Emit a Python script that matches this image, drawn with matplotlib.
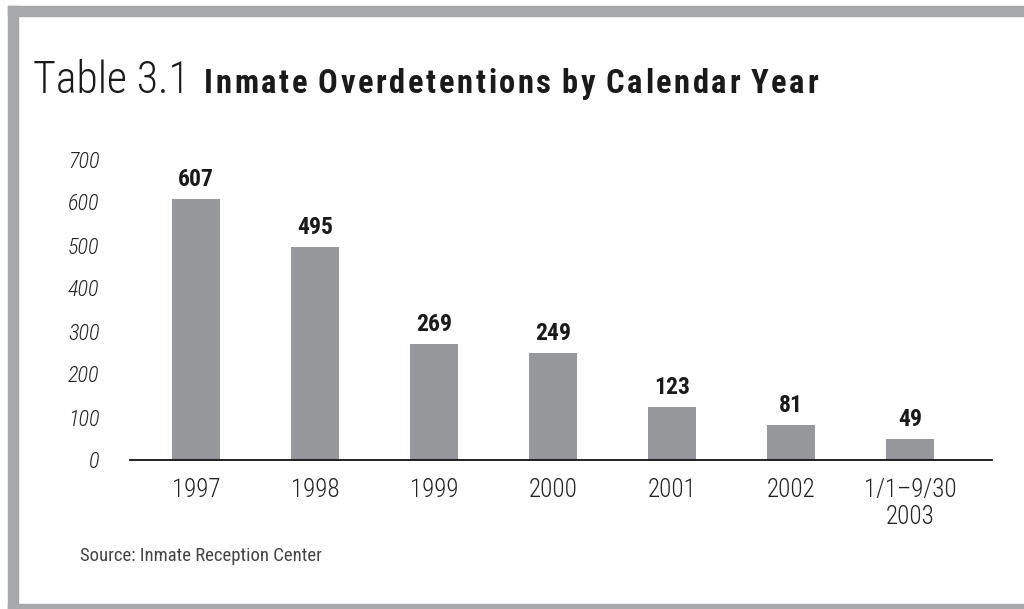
import matplotlib
matplotlib.use("Agg")
import matplotlib.pyplot as plt
from matplotlib.patches import Rectangle

# overdetentions per calendar year
periods = ["1997", "1998", "1999", "2000", "2001", "2002", "1/1\u20139/30\n2003"]
counts = [607, 495, 269, 249, 123, 81, 49]
yticks = [0, 100, 200, 300, 400, 500, 600, 700]

bar_color = "#97989b"
frame_color = "#a7a8aa"
text_color = "#1a1a1a"
narrow = ["Roboto Condensed", "DejaVu Sans"]

plt.rcParams["font.family"] = narrow

W, H = 1024, 609
fig = plt.figure(figsize=(W / 100, H / 100), dpi=100)
fig.patch.set_facecolor("white")


def spaced_text(x0, x1, y, s, **kw):
    # lay out s letter by letter so it spans x0..x1 (pixels)
    r = fig.canvas.get_renderer()
    arts, widths = [], []
    for ch in s:
        t = fig.text(0, 1 - y / H, ch if ch != " " else "", va="baseline", **kw)
        arts.append(t)
        widths.append(t.get_window_extent(r).width if ch != " " else 0.0)
    space_w = 0.16 * kw.get("fontsize", 12) * 100 / 72
    widths = [w if ch != " " else space_w for w, ch in zip(widths, s)]
    gap = (x1 - x0 - sum(widths)) / (len(s) - 1)
    xp = x0
    for t, w in zip(arts, widths):
        t.set_x(xp / W)
        xp += w + gap


# grey frame: top, left and bottom bands
fig.patches.append(Rectangle((8 / W, 1 - 16 / H), 1, 10 / H, transform=fig.transFigure,
                             color=frame_color, zorder=0))
fig.patches.append(Rectangle((8 / W, 0), 10 / W, 1 - 6 / H, transform=fig.transFigure,
                             color=frame_color, zorder=0))
fig.patches.append(Rectangle((8 / W, 0), 1, 5 / H, transform=fig.transFigure,
                             color=frame_color, zorder=0))

ax = fig.add_axes([130 / W, 149 / H, 862 / W, 301 / H])
x = list(range(len(counts)))
ax.bar(x, counts, width=0.41, color=bar_color, zorder=2)

for xi, v in zip(x, counts):
    ax.annotate(str(v), (xi, v), xytext=(0, 6), textcoords="offset points",
                ha="center", va="bottom", fontsize=17, fontweight="bold", color=text_color)

ax.set_xlim(-0.555, 6.69)
ax.set_ylim(0, 700)
ax.set_yticks(yticks)
ax.set_yticklabels([str(t) for t in yticks], fontsize=16, fontstyle="italic",
                   fontweight="light", color="#222222")
ax.set_xticks(x)
ax.set_xticklabels(periods, fontsize=18, fontweight="light", color="#222222", linespacing=1.18)
ax.tick_params(axis="y", length=0, pad=22)
ax.tick_params(axis="x", length=0, pad=13)
for s in ["top", "right", "left"]:
    ax.spines[s].set_visible(False)
ax.spines["bottom"].set_linewidth(1.3)
ax.spines["bottom"].set_color("#111111")

# title in two weights
fig.text(33 / W, 1 - 93 / H, "Table 3.1", fontsize=31.5, fontweight="light",
         color=text_color, va="baseline")
spaced_text(204, 818, 93, "Inmate Overdetentions by Calendar Year", fontsize=23.5,
            fontweight="bold", color=text_color)

fig.text(80 / W, 1 - 561 / H, "Source: Inmate Reception Center", fontsize=13.5,
         color="#444444", va="baseline")

fig.savefig("out.png", dpi=100)
